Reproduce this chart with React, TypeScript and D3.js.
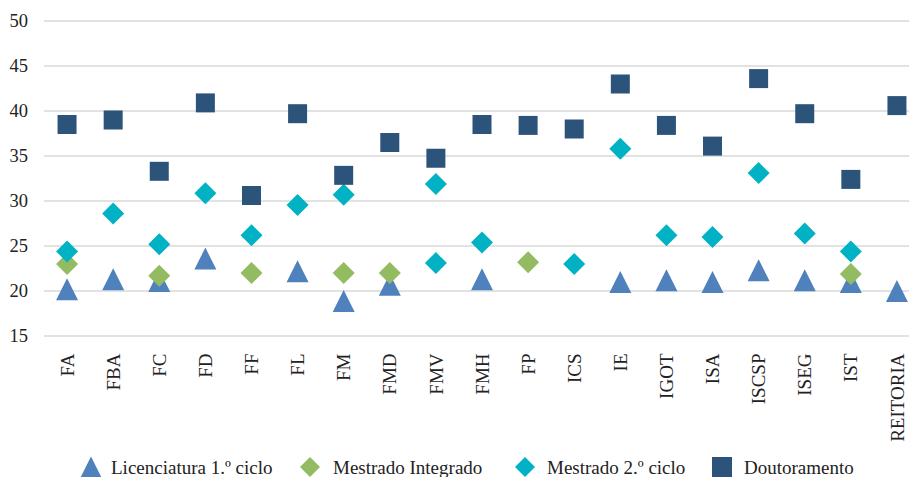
import React from "react";
import * as d3 from "d3";

const categories = ["FA", "FBA", "FC", "FD", "FF", "FL", "FM", "FMD", "FMV", "FMH", "FP", "ICS", "IE", "IGOT", "ISA", "ISCSP", "ISEG", "IST", "REITORIA"];
const licenciatura: (number | null)[] = [20.2, 21.3, 21.1, 23.6, null, 22.2, 18.9, 20.7, null, 21.3, null, null, 21.0, 21.2, 21.0, 22.3, 21.2, 21.0, 20.0];
const mestradoIntegrado: (number | null)[] = [23.0, null, 21.7, null, 22.0, null, 22.0, 22.0, null, null, 23.2, null, null, null, null, null, null, 21.9, null];
const mestrado2: (number | null)[] = [24.4, 28.6, 25.2, 30.85, 26.2, 29.55, 30.7, null, 31.9, 25.4, null, 23.0, 35.8, 26.2, 26.0, 33.1, 26.4, 24.4, null];
const mestrado2Extra: (number | null)[] = [null, null, null, null, null, null, null, null, 23.1, null, null, null, null, null, null, null, null, null, null];
const doutoramento: (number | null)[] = [38.5, 39.0, 33.3, 40.9, 30.6, 39.7, 32.85, 36.5, 34.75, 38.5, 38.4, 38.0, 43.0, 38.4, 36.1, 43.6, 39.7, 32.4, 40.6];
const yTicks = [15, 20, 25, 30, 35, 40, 45, 50];
const legendLabels = ["Licenciatura 1.º ciclo", "Mestrado Integrado", "Mestrado 2.º ciclo", "Doutoramento"];

const W = 909, H = 477;
const FONT = "'Liberation Serif', 'Times New Roman', serif";
const C_TRI = "#4f81bd", C_GREEN = "#93bb62", C_CYAN = "#00b2c4", C_SQ = "#2c5379";

type Shape = "tri" | "dia" | "sq";

function markerPath(shape: Shape, cx: number, cy: number, s: number): string {
  const h = s / 2;
  if (shape === "tri") return `M${cx},${cy - h}L${cx + h},${cy + h}L${cx - h},${cy + h}Z`;
  if (shape === "dia") return `M${cx},${cy - h}L${cx + h},${cy}L${cx},${cy + h}L${cx - h},${cy}Z`;
  return `M${cx - h},${cy - h}h${s}v${s}h${-s}Z`;
}

export default function App() {
  const x = d3.scaleBand<string>().domain(categories).range([44, 920]);
  const y = d3.scaleLinear().domain([15, 50]).range([336, 21]);
  const cx = (c: string) => (x(c) as number) + x.bandwidth() / 2;

  const series: { data: (number | null)[]; shape: Shape; color: string; size: number }[] = [
    { data: licenciatura, shape: "tri", color: C_TRI, size: 22 },
    { data: mestradoIntegrado, shape: "dia", color: C_GREEN, size: 22 },
    { data: mestrado2, shape: "dia", color: C_CYAN, size: 22 },
    { data: mestrado2Extra, shape: "dia", color: C_CYAN, size: 22 },
    { data: doutoramento, shape: "sq", color: C_SQ, size: 19 },
  ];

  const legend: { label: string; shape: Shape; color: string; mx: number; tx: number; size: number }[] = [
    { label: legendLabels[0], shape: "tri", color: C_TRI, mx: 91, tx: 111, size: 21 },
    { label: legendLabels[1], shape: "dia", color: C_GREEN, mx: 310, tx: 333, size: 20 },
    { label: legendLabels[2], shape: "dia", color: C_CYAN, mx: 525, tx: 547, size: 20 },
    { label: legendLabels[3], shape: "sq", color: C_SQ, mx: 722, tx: 744, size: 20 },
  ];

  return (
    <svg width={W} height={H} style={{ position: "absolute", left: 0, top: 0, background: "#fff" }} fontFamily={FONT}>
      {yTicks.map((t) => (
        <g key={t}>
          <line x1={44} x2={W} y1={y(t)} y2={y(t)} stroke="#d9d9d9" strokeWidth={1.5} />
          <text x={28} y={y(t)} dy="0.35em" textAnchor="end" fontSize={18.5} fill="#222">{t}</text>
        </g>
      ))}
      {categories.map((c) => (
        <text key={c} transform={`translate(${cx(c)},353.5) rotate(-90)`} textAnchor="end" dy="0.35em" fontSize={19} fill="#222">{c}</text>
      ))}
      {series.map((s, si) => (
        <g key={si}>
          {s.data.map((v, i) =>
            v == null ? null : (
              <path key={i} d={markerPath(s.shape, cx(categories[i]), y(v), s.size)} fill={s.color} />
            )
          )}
        </g>
      ))}
      {legend.map((l) => (
        <g key={l.label}>
          <path d={markerPath(l.shape, l.mx, 467, l.size)} fill={l.color} />
          <text x={l.tx} y={474} fontSize={19} fill="#222">{l.label}</text>
        </g>
      ))}
    </svg>
  );
}
